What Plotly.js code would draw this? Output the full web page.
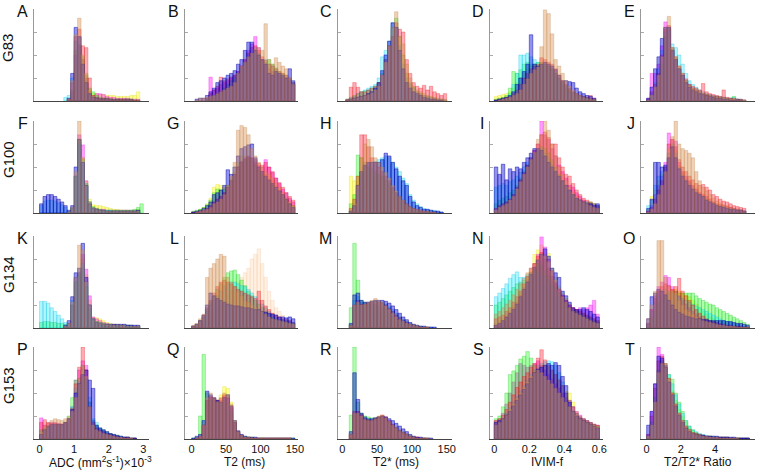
<!DOCTYPE html>
<html><head><meta charset="utf-8">
<script src="https://cdn.plot.ly/plotly-3.0.1.min.js"></script>
<style>html,body{margin:0;padding:0;background:#fff}#chart{width:757px;height:472px}</style>
</head><body><div id="chart"></div>
<script>
// ---------- data ----------
const rowNames = ['G83', 'G100', 'G134', 'G153'];
const panelLetters = ['A','B','C','D','E','F','G','H','I','J','K','L','M','N','O','P','Q','R','S','T'];
const xTitles = ['ADC (mm<sup>2</sup>s<sup>-1</sup>)×10<sup>-3</sup>', 'T2 (ms)', 'T2* (ms)', 'IVIM-f', 'T2/T2* Ratio'];
const binStart = [0, 0, 0, 0, 0];
const binWidth = [0.1, 5, 5, 0.02, 0.2];
const tickVals = [[0,1,2,3],[0,50,100,150],[0,50,100,150],[0,0.2,0.4,0.6],[0,2,4]];
const tickText = [['0','1','2','3'],['0','50','100','150'],['0','50','100','150'],['0','0.2','0.4','0.6'],['0','2','4']];

// histogram heights (% of panel height) per series: Y yellow, M magenta, G green, C cyan, R red, B blue, T tan, P pale
const pA = {
 Y:[0,0,0,0,0,0,0,0,2,8,35,55,45,25,12,8,8,7,7,6,6,6,5,5,5,5,6,6,10,0],
 M:[0,0,0,0,0,0,0,0,0,10,50,60,45,25,10,6,8,8,7,5,4,4,3,3,3,3,2,2,2,0],
 G:[0,0,0,0,0,0,0,0,1,12,55,62,48,28,14,10,6,4,3,3,2,2,2,2,2,2,2,1,1,0],
 C:[0,0,0,0,0,0,0,4,6,25,65,70,45,22,8,5,4,3,3,3,2,2,2,2,2,2,2,1,1,0],
 R:[0,0,0,0,0,0,0,0,2,20,70,78,60,58,25,6,4,3,3,3,2,2,2,2,2,2,2,1,1,0],
 B:[0,0,0,0,0,0,0,0,3,30,80,70,40,20,8,4,3,2,2,2,2,1,1,1,1,1,1,0,0,0],
 T:[0,0,0,0,0,0,0,0,2,22,72,90,50,30,12,5,3,2,2,2,2,1,1,1,1,1,1,0,0,0]
};
const pB = {
 M:[0,0,0,0,3,26,12,14,18,20,22,25,28,32,38,45,55,62,70,58,45,40,35,32,30,28,26,25,22,18,0],
 C:[0,0,0,0,2,4,6,8,10,14,18,22,26,30,36,42,50,55,58,52,45,45,40,38,34,30,28,25,22,18,0],
 G:[0,0,0,0,2,4,6,8,10,14,18,22,26,30,36,42,48,52,55,50,44,42,45,40,36,32,30,28,24,20,0],
 R:[0,0,0,0,3,8,12,16,26,22,24,26,28,32,38,45,52,58,60,55,48,44,40,38,35,32,30,28,25,20,0],
 B:[0,2,3,3,6,10,14,20,22,25,28,30,33,40,45,55,64,64,55,50,45,40,30,28,32,30,28,25,35,22,0],
 T:[0,1,3,3,4,5,6,8,10,12,14,16,20,30,38,42,48,52,56,58,55,84,45,40,47,42,38,35,25,18,0]
};
const pC = {
 G:[0,2,4,6,8,10,11,12,14,16,20,30,45,60,80,90,70,50,30,20,15,10,8,6,5,4,3,2,1,1,0],
 C:[0,1,3,5,8,10,12,14,16,18,25,48,55,65,85,80,60,40,25,18,14,10,8,6,5,4,3,2,2,1,0],
 R:[0,2,15,20,15,10,10,12,14,16,20,28,45,60,70,85,78,75,45,30,20,16,14,17,12,16,10,8,6,8,0],
 B:[0,1,2,3,4,5,6,8,10,14,20,33,50,65,85,80,55,35,20,14,10,8,6,4,3,2,2,1,1,0,0],
 T:[0,1,2,3,4,5,6,7,9,12,16,28,42,60,80,97,70,62,40,25,16,12,10,8,6,5,4,3,2,2,0]
};
const pD = {
 Y:[5,6,7,8,10,14,20,25,30,35,38,40,40,40,38,36,34,30,25,20,16,12,10,8,6,5,4,3,2,0],
 G:[2,3,4,6,14,32,30,34,40,42,40,40,42,42,40,38,35,30,25,20,16,12,9,7,5,4,3,2,1,0],
 C:[1,2,3,4,8,18,30,50,50,52,48,45,42,40,40,38,35,30,24,18,14,10,8,6,5,4,3,2,1,0],
 R:[1,2,3,4,5,8,12,18,25,30,35,38,40,47,45,42,40,35,28,22,18,14,10,8,6,5,4,6,3,0],
 B:[1,2,3,4,6,10,18,25,32,40,72,40,38,40,42,40,38,34,28,22,22,21,20,14,10,8,6,5,3,0],
 T:[0,1,2,3,4,6,8,12,18,24,30,34,37,59,99,95,73,45,38,30,22,16,12,8,6,4,3,2,1,0]
};
const pE = {
 M:[3,30,30,40,60,86,80,55,45,35,28,22,18,14,12,10,8,7,6,5,5,4,4,3,3,2,2,1,1,0],
 G:[1,4,10,20,40,70,78,56,46,36,28,22,17,14,12,10,8,7,6,5,5,4,4,3,3,5,2,1,1,0],
 C:[2,8,20,35,55,75,80,62,58,50,40,30,22,18,15,12,10,8,7,6,5,5,4,3,3,4,2,2,1,0],
 R:[2,10,18,30,50,78,82,58,48,38,30,24,18,16,14,12,19,10,8,7,6,5,12,4,3,3,2,2,1,0],
 B:[3,15,35,48,68,80,80,55,45,35,28,20,15,12,10,8,7,6,5,4,3,3,2,2,1,1,1,1,0,0],
 T:[1,6,15,28,48,80,92,58,48,38,30,22,17,14,12,10,8,7,6,5,4,4,3,3,2,2,1,1,1,0]
};
const pF = {
 Y:[0,0,0,0,0,0,0,0,1,5,40,80,60,35,15,9,8,8,7,6,5,4,4,3,3,3,3,3,4,0],
 M:[0,0,0,0,0,0,0,0,1,5,40,85,74,35,12,6,5,4,4,3,3,3,3,3,3,3,3,3,3,0],
 G:[0,0,0,0,0,0,0,0,1,5,40,80,58,32,12,7,5,4,3,3,3,3,3,3,3,3,3,4,6,10],
 C:[8,13,14,14,13,11,9,6,2,6,40,75,55,30,12,6,4,3,3,3,3,2,2,2,2,2,2,2,2,0],
 B:[10,18,20,20,18,15,12,8,3,8,50,80,55,30,10,5,4,3,3,2,2,2,2,2,2,2,2,2,3,0],
 T:[0,0,0,0,0,0,0,0,1,6,45,100,60,30,12,6,4,3,3,2,2,2,2,2,2,2,2,2,2,0]
};
const pG = {
 Y:[1,2,4,6,10,16,28,31,30,28,30,38,45,55,62,62,60,56,52,48,45,42,40,35,30,25,20,15,10,8,0],
 M:[1,1,2,3,5,8,12,15,18,22,28,35,42,50,56,60,62,60,55,52,50,58,50,44,38,32,26,22,16,12,0],
 G:[2,3,4,6,9,14,22,26,25,26,30,36,42,50,55,58,60,58,52,46,42,38,34,30,26,22,18,14,10,8,0],
 R:[1,1,2,3,5,8,12,15,18,22,28,35,42,50,55,58,60,60,58,54,52,55,50,45,38,33,28,22,18,14,0],
 B:[1,2,3,5,8,12,20,22,25,30,47,42,50,62,70,72,74,75,60,50,45,40,36,32,28,24,20,15,10,6,0],
 T:[0,1,2,3,4,6,10,12,15,20,30,40,55,90,95,93,85,70,62,55,50,45,42,38,32,28,22,16,12,8,0]
};
const pH = {
 Y:[0,0,40,35,40,45,50,48,45,42,40,38,35,30,25,20,16,12,9,6,4,3,2,2,1,1,1,0,0,0,0],
 G:[0,0,10,20,63,60,55,50,48,45,42,40,36,32,27,22,17,13,10,7,5,3,2,2,1,1,1,0,0,0,0],
 C:[0,0,2,6,25,42,50,54,55,56,58,60,62,60,55,50,45,38,32,20,14,10,7,5,4,3,3,2,1,0,0],
 R:[0,0,5,15,40,85,85,72,60,55,50,45,40,35,28,22,18,14,10,7,5,4,3,2,2,1,1,0,0,0,0],
 B:[0,0,2,8,30,45,52,55,55,55,55,58,65,62,55,48,40,35,30,18,12,8,6,4,4,3,2,2,1,0,0],
 T:[0,0,3,10,30,60,75,80,72,60,55,50,44,38,30,24,18,14,10,7,5,4,3,2,2,1,1,0,0,0,0]
};
const pI = {
 M:[5,8,10,12,15,20,28,36,44,52,60,68,75,100,85,80,70,62,52,45,38,30,28,22,18,14,12,10,8,8],
 G:[10,14,16,18,22,25,30,38,46,52,58,64,68,72,70,65,58,50,42,35,30,24,20,16,14,12,12,12,10,8],
 C:[28,30,32,30,34,36,40,44,50,55,60,65,68,70,65,60,52,46,40,34,30,25,20,16,14,12,12,10,10,8],
 R:[5,8,10,12,15,20,28,36,44,52,60,68,75,85,88,82,75,75,60,50,42,40,32,25,20,16,14,12,10,8],
 B:[50,42,53,36,48,45,50,48,55,60,65,70,70,68,62,55,50,45,40,35,30,25,20,16,14,12,10,10,8,10],
 T:[3,6,8,10,14,18,26,34,42,50,58,66,80,85,100,90,75,62,50,42,35,28,22,18,14,12,10,8,6,5]
};
const pJ = {
 Y:[4,18,25,35,42,50,65,75,68,52,44,38,34,30,26,22,20,17,15,12,10,9,8,7,6,5,4,3,2,0],
 M:[2,8,20,30,40,55,87,80,78,55,45,40,35,30,26,22,20,18,15,12,10,9,8,7,6,5,4,3,2,0],
 C:[8,14,30,40,45,50,65,75,65,50,42,36,32,28,24,20,18,15,13,11,9,8,7,6,5,4,4,3,2,0],
 R:[2,6,15,25,35,50,75,80,72,58,50,45,40,36,32,30,31,28,25,20,18,15,13,12,10,8,7,6,5,0],
 B:[5,15,55,55,50,52,60,72,60,48,40,35,30,26,22,20,18,14,12,10,8,7,6,5,4,4,3,3,2,0],
 T:[1,4,10,20,30,45,70,83,100,75,70,68,65,60,45,35,28,24,20,16,13,11,9,8,6,5,4,3,2,0]
};
const pK = {
 Y:[0,0,0,0,0,0,0,2,5,25,50,60,75,58,30,12,11,10,8,6,5,4,4,3,3,3,3,2,2,0],
 M:[0,0,0,0,0,0,0,2,5,25,55,60,80,64,35,12,10,8,6,5,4,4,3,3,3,3,3,2,2,0],
 G:[6,7,7,6,6,5,5,4,3,25,50,58,65,45,20,9,7,6,5,4,4,3,3,3,3,3,2,2,2,0],
 C:[29,29,27,22,18,14,10,6,5,30,55,60,70,50,25,10,7,6,5,4,4,3,3,3,3,3,3,2,2,0],
 B:[0,0,0,0,0,0,0,3,8,34,60,65,92,55,25,10,6,5,4,4,4,4,4,4,4,3,3,3,3,0],
 T:[0,0,0,0,0,0,0,2,5,28,55,90,85,50,25,10,7,6,5,4,4,3,3,3,3,2,2,2,2,0]
};
const pL = {
 P:[0,0,2,4,8,12,16,20,25,30,35,40,45,50,55,60,65,75,80,86,70,55,40,30,22,18,14,10,8,5,0],
 G:[2,4,8,12,20,28,35,42,48,55,60,62,63,58,52,46,40,35,30,26,22,18,15,12,10,9,8,7,6,5,0],
 C:[2,4,8,12,18,25,30,35,40,45,48,50,50,48,46,45,42,38,34,30,26,22,18,15,12,10,9,8,7,6,0],
 R:[2,4,8,14,22,30,38,45,50,52,50,48,45,42,40,38,36,34,32,40,30,24,20,16,14,12,10,9,8,6,0],
 B:[2,4,8,14,25,38,35,32,30,28,26,25,24,24,23,22,22,21,20,20,18,17,16,15,14,12,12,11,12,10,0],
 T:[3,5,10,15,55,65,70,75,80,78,55,50,45,40,35,30,28,25,22,20,18,15,12,10,9,8,7,6,5,4,0]
};
const pM = {
 Y:[0,0,3,22,28,25,26,27,28,29,28,27,25,22,18,15,12,9,7,5,4,3,2,1,1,0,0,0,0,0,0],
 G:[0,0,22,92,52,30,28,26,25,25,24,22,20,16,13,10,8,6,4,3,2,1,1,1,0,0,0,0,0,0,0],
 C:[0,0,4,30,34,28,27,28,29,30,29,28,26,23,20,16,12,9,7,5,3,2,2,1,1,1,0,0,0,0,0],
 R:[0,0,3,25,30,26,26,27,28,29,28,27,25,21,18,14,11,8,6,4,3,2,1,1,1,0,0,0,0,0,0],
 B:[0,0,5,36,38,30,28,28,29,30,30,30,29,27,24,20,16,12,9,6,4,3,2,2,1,1,1,0,0,0,0],
 T:[0,0,3,25,28,25,26,28,30,32,30,28,24,20,16,12,9,7,5,4,3,2,1,1,1,0,0,0,0,0,0]
};
const pN = {
 Y:[5,8,10,14,18,24,30,38,46,54,62,80,85,90,80,81,65,55,45,38,32,26,22,20,18,16,14,12,10,8],
 M:[3,5,8,12,16,22,28,36,44,52,60,70,80,99,88,75,62,50,42,36,30,25,22,20,22,20,22,25,30,15],
 G:[25,28,32,36,40,44,48,50,52,56,60,64,70,68,62,56,50,44,38,32,27,22,20,18,16,14,12,10,8,6],
 C:[34,38,43,48,54,58,61,55,55,58,60,62,60,58,56,52,46,40,34,28,24,20,18,16,14,12,10,10,8,6],
 R:[10,12,14,18,22,28,34,40,48,56,65,70,78,82,75,65,56,48,42,35,30,25,22,20,18,16,14,12,10,8],
 B:[3,5,8,12,16,20,26,34,42,50,58,66,74,80,86,78,65,60,55,40,35,28,22,20,20,22,20,18,15,12],
 T:[15,18,22,26,30,36,42,48,54,60,65,70,75,80,78,72,62,52,42,34,28,22,18,16,14,12,10,8,6,5]
};
const pO = {
 Y:[3,12,20,28,34,38,40,42,42,40,38,36,34,30,26,22,18,15,12,10,8,7,6,5,4,3,3,2,2,1],
 M:[5,20,35,45,50,57,55,45,40,35,30,26,22,18,15,12,10,8,7,6,5,4,3,3,2,2,2,1,1,1],
 G:[3,10,18,25,30,35,38,40,40,38,38,38,38,38,35,32,30,28,26,25,22,20,18,16,14,12,10,8,6,4],
 C:[5,18,28,35,40,42,40,38,36,34,32,30,28,26,24,22,20,18,16,14,12,10,8,7,6,5,4,3,2,1],
 R:[5,20,32,40,45,48,46,42,45,54,40,35,30,25,20,16,13,10,8,7,6,5,4,3,3,2,2,2,1,1],
 B:[10,34,38,42,40,36,30,25,20,17,15,13,12,11,10,10,9,9,8,8,8,8,8,7,7,6,5,5,4,3],
 T:[10,25,40,95,95,55,45,40,38,30,25,20,18,15,12,10,8,7,6,5,4,3,3,2,2,2,1,1,1,1]
};
const pP = {
 M:[23,15,18,18,18,17,16,18,22,35,64,75,85,80,40,20,14,10,8,6,5,4,3,2,2,2,1,1,0,0],
 G:[10,12,14,15,15,15,15,18,25,45,64,66,80,65,40,20,15,12,10,8,6,5,4,3,2,2,1,1,0,0],
 C:[8,10,12,14,14,14,15,17,22,35,55,62,75,65,45,22,18,12,9,7,5,4,3,3,2,2,1,1,0,0],
 R:[18,21,17,17,17,16,16,18,22,33,60,78,100,75,35,18,12,10,8,6,5,4,3,2,2,2,1,1,0,0],
 B:[5,10,14,16,16,16,16,18,22,32,50,60,70,75,64,55,15,12,10,8,6,5,4,3,2,2,1,1,0,0],
 T:[8,14,18,20,22,21,20,22,24,30,45,60,75,68,35,15,10,8,6,5,4,3,2,2,1,1,1,0,0,0]
};
const pQ = {
 Y:[0,1,3,15,40,45,42,42,48,57,55,40,20,8,4,2,2,1,1,1,1,1,1,1,1,1,1,1,1,0,0],
 M:[0,1,3,15,42,46,44,42,42,46,44,34,18,8,4,2,2,1,1,1,1,1,1,1,1,1,1,1,1,0,0],
 G:[1,2,25,92,50,42,44,42,40,42,38,30,18,8,4,3,2,2,1,1,1,1,1,1,1,1,1,1,1,1,0],
 R:[0,1,3,15,42,46,44,42,44,48,45,36,18,8,4,2,2,1,1,1,1,1,1,1,1,1,1,1,1,0,0],
 B:[1,3,5,20,52,48,45,42,40,45,48,36,20,9,5,3,2,2,2,1,1,1,1,1,1,1,1,1,1,1,0],
 T:[0,1,3,15,45,50,45,40,45,50,48,38,20,8,4,2,2,1,1,1,1,1,1,1,1,1,1,1,1,0,0]
};
const pR = {
 Y:[0,0,5,26,28,26,22,21,21,22,24,25,23,19,16,13,10,8,6,4,3,2,1,1,1,0,0,0,0,0,0],
 M:[0,0,5,28,30,27,22,21,21,22,24,25,23,19,15,12,9,7,5,3,2,2,1,1,0,0,0,0,0,0,0],
 G:[0,0,26,100,40,28,25,24,23,23,24,24,22,18,15,12,9,7,5,3,2,1,1,1,0,0,0,0,0,0,0],
 R:[0,0,5,30,30,26,22,20,20,22,24,26,24,20,16,12,9,7,5,3,2,2,1,1,1,0,0,0,0,0,0],
 B:[0,0,8,72,43,28,24,22,22,23,24,25,24,22,20,17,14,11,8,5,3,2,2,1,1,1,0,0,0,0,0],
 T:[0,0,5,28,28,25,21,20,20,22,25,26,23,19,15,12,9,7,5,3,2,1,1,1,1,0,0,0,0,0,0]
};
const pS = {
 Y:[15,18,22,26,32,38,44,50,56,62,68,74,78,80,80,78,74,70,65,58,52,50,40,30,25,22,20,18,16,14],
 M:[20,22,28,38,50,62,72,82,80,78,80,82,85,80,75,70,65,60,55,50,45,40,35,30,26,22,20,18,16,15],
 G:[22,25,35,50,70,74,80,87,90,95,88,80,75,70,66,62,58,54,50,45,40,35,30,26,22,20,18,16,15,14],
 C:[15,18,22,28,34,40,46,52,58,64,70,75,80,82,84,85,84,80,72,62,50,42,35,28,24,22,20,18,16,14],
 R:[20,22,26,32,40,48,56,62,68,72,78,82,88,97,86,80,75,70,64,58,50,42,35,28,24,22,20,18,16,15],
 B:[18,20,22,26,30,36,42,48,54,60,66,72,76,78,80,82,80,83,80,68,58,40,30,25,22,20,18,16,14,12],
 T:[15,18,22,26,32,38,44,50,56,62,68,72,75,72,68,64,60,55,50,45,40,35,30,26,22,20,18,16,15,14]
};
const pT = {
 Y:[2,12,35,65,78,76,66,52,42,32,24,18,12,9,7,5,4,3,3,2,2,2,1,1,1,1,1,1,0,0],
 M:[5,30,60,100,92,80,65,50,38,28,20,14,10,7,6,5,4,3,3,2,2,2,2,2,1,1,1,1,1,1],
 G:[3,18,45,75,85,82,70,65,50,40,30,20,14,10,7,5,4,3,3,2,2,2,2,2,1,1,1,1,1,1],
 C:[3,15,40,70,80,80,70,60,48,38,28,20,14,10,8,6,5,4,3,3,2,2,2,2,1,1,1,1,1,1],
 R:[5,25,55,85,90,82,66,50,38,28,20,14,10,7,6,5,4,3,3,2,2,2,2,2,1,1,1,1,1,1],
 B:[15,30,60,90,88,78,62,48,36,26,18,12,8,6,5,4,4,3,3,3,3,2,2,2,2,2,1,1,1,1],
 T:[3,15,40,72,82,78,65,50,38,28,20,14,10,7,5,4,3,3,2,2,2,1,1,1,1,1,1,0,0,0]
};
const panels = [pA,pB,pC,pD,pE,pF,pG,pH,pI,pJ,pK,pL,pM,pN,pO,pP,pQ,pR,pS,pT];

// ---------- styling ----------
const W = 757, H = 472;
const colPx = [[34,149],[185,298],[338,452],[490,603],[641,755]];
const rowPx = [[9,101],[121,213],[236,328],[347,439]];
const colRange = [[-0.16,3.165],[-9.7,154.5],[-6.2,157.6],[-0.0246,0.621],[-0.33,6.33]];
const seriesOrder = ['P','Y','M','G','C','R','B','T'];
const fillCol = {
  P:'rgba(255,205,160,0.3)', Y:'rgba(255,255,0,0.4)', M:'rgba(255,0,255,0.38)', G:'rgba(0,255,0,0.32)',
  C:'rgba(0,230,255,0.32)', R:'rgba(255,20,50,0.36)', B:'rgba(10,10,225,0.45)', T:'rgba(215,145,80,0.42)'
};
const lineCol = {
  P:'rgba(240,190,150,0.4)', Y:'rgba(210,210,0,0.45)', M:'rgba(220,0,220,0.45)', G:'rgba(0,190,0,0.45)',
  C:'rgba(0,180,220,0.45)', R:'rgba(220,0,0,0.45)', B:'rgba(0,0,160,0.75)', T:'rgba(190,120,60,0.45)'
};
const FONT = 'Liberation Sans, Arial, Helvetica, sans-serif';

const traces = [];
const layout = {
  width: W, height: H, margin:{l:0,r:0,t:0,b:0}, paper_bgcolor:'#fff', plot_bgcolor:'rgba(0,0,0,0)',
  barmode:'overlay', bargap:0, showlegend:false, hovermode:false,
  font:{family:FONT, size:11, color:'#111'}, annotations:[]
};

panels.forEach((p, k) => {
  const row = Math.floor(k/5), col = k % 5;
  const sfx = k === 0 ? '' : String(k+1);
  const w = binWidth[col];
  seriesOrder.forEach(key => {
    const vals = p[key];
    if (!vals) return;
    const xs = [], ys = [];
    vals.forEach((v, i) => { if (v > 0) { xs.push(binStart[col] + (i + 0.5) * w); ys.push(v); } });
    traces.push({
      type:'bar', x:xs, y:ys, width:w, xaxis:'x'+sfx, yaxis:'y'+sfx,
      marker:{color:fillCol[key], line:{color:lineCol[key], width:0.6}},
      hoverinfo:'skip', showlegend:false
    });
  });
  layout['xaxis'+sfx] = {
    domain:[colPx[col][0]/W, colPx[col][1]/W], range:colRange[col], anchor:'y'+sfx,
    showline:true, linecolor:'#444', linewidth:1, showgrid:false, zeroline:false,
    ticks:'', showticklabels: row === 3, tickvals:tickVals[col], ticktext:tickText[col],
    tickfont:{size:11, family:FONT, color:'#111'}, fixedrange:true
  };
  layout['yaxis'+sfx] = {
    domain:[1 - rowPx[row][1]/H, 1 - rowPx[row][0]/H], range:[0,100], anchor:'x'+sfx,
    showline:true, linecolor:'#999', linewidth:1, showgrid:false, zeroline:false,
    ticks:'inside', ticklen:3, tickcolor:'#aaa', tickwidth:1, dtick:25, showticklabels:false, fixedrange:true
  };
  layout.annotations.push({
    xref:'paper', yref:'paper', x:(colPx[col][0]-4)/W, y:1 - (rowPx[row][0]+2)/H,
    xanchor:'right', yanchor:'middle', text:panelLetters[k], showarrow:false,
    font:{size:16, family:FONT, color:'#111'}
  });
});

rowNames.forEach((name, r) => {
  layout.annotations.push({
    xref:'paper', yref:'paper', x:8/W, y:1 - ((rowPx[r][0]+rowPx[r][1])/2 - 7)/H,
    xanchor:'center', yanchor:'middle', text:name, textangle:-90, showarrow:false,
    font:{size:15, family:FONT, color:'#111'}
  });
});

const titleCenters = [100, 244, 396, 547, 698];
xTitles.forEach((t, c) => {
  layout.annotations.push({
    xref:'paper', yref:'paper', x:titleCenters[c]/W, y:1 - 462/H,
    xanchor:'center', yanchor:'middle', text:t, showarrow:false,
    font:{size:12, family:FONT, color:'#111'}
  });
});

Plotly.newPlot('chart', traces, layout, {displayModeBar:false, staticPlot:true});
</script>
</body></html>
